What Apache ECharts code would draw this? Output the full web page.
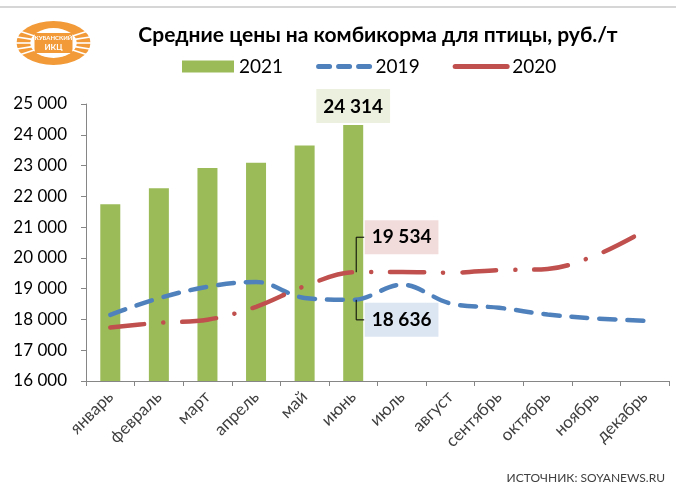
<!DOCTYPE html>
<html>
<head>
<meta charset="utf-8">
<title>Средние цены на комбикорма для птицы</title>
<script src="https://cdn.jsdelivr.net/npm/echarts@6/dist/echarts.min.js"></script>
<style>
  html, body { margin: 0; padding: 0; background: #fff; }
  #chart { width: 676px; height: 490px; }
</style>
</head>
<body>
<div id="chart"></div>
<script>
// данные
const months = ['январь', 'февраль', 'март', 'апрель', 'май', 'июнь', 'июль', 'август', 'сентябрь', 'октябрь', 'ноябрь', 'декабрь'];
const prices2021 = [21740, 22260, 22920, 23090, 23650, 24314];
const prices2019 = [18150, 18690, 19060, 19220, 18700, 18636, 19130, 18520, 18380, 18160, 18030, 17960];
const prices2020 = [17740, 17890, 17990, 18410, 19080, 19534, 19540, 19520, 19600, 19640, 20090, 20880];
const yMin = 16000;
const yMax = 25000;
const yStep = 1000;
const calloutMonth = 5; // июнь

const font = 'Lato, "Noto Sans", sans-serif';
const green = '#9BBB59';
const blue = '#4F81BD';
const red = '#C0504D';
const orange = '#F29A38';

function fmt(v) {
  return String(v).replace(/\B(?=(\d{3})+(?!\d))/g, ' ');
}

const calloutText = {
  show: true,
  fontFamily: font,
  fontSize: 19,
  fontWeight: 'bold',
  color: '#000',
  padding: [8, 7, 7, 7],
  formatter: p => fmt(p.value)
};

function lineData(arr, bg) {
  return arr.map((v, i) => i === calloutMonth
    ? { value: v, symbol: 'circle', symbolSize: 1, label: Object.assign({}, calloutText, { position: 'right', distance: 11, backgroundColor: bg }) }
    : v);
}

// белые прорези в венке логотипа
function logoLeaves() {
  let res = [];
  [150, 165, 180, 195, 210, -30, -15, 0, 15, 30].forEach(a => {
    let r = a * Math.PI / 180;
    res.push({
      type: 'line',
      shape: { x1: 37 + 22 * Math.cos(r), y1: 22 + 14 * Math.sin(r), x2: 37 + 38 * Math.cos(r), y2: 22 + 23 * Math.sin(r) },
      style: { stroke: '#fff', lineWidth: 1.6 }
    });
  });
  return res;
}

let myChart = echarts.init(document.getElementById('chart'));

function buildOption(leaders) {
  return {
    animation: false,
    backgroundColor: '#fff',
    title: {
      text: 'Средние цены на комбикорма для птицы, руб./т',
      left: 373,
      top: 20,
      textAlign: 'center',
      textStyle: { fontFamily: font, fontSize: 21, fontWeight: 'bold', color: '#000' }
    },
    legend: {
      left: 177,
      top: 52,
      itemWidth: 52,
      itemHeight: 12,
      itemGap: 33,
      textStyle: { fontFamily: font, fontSize: 19, color: '#000' },
      data: [
        { name: '2021', icon: 'rect' },
        { name: '2019', itemStyle: { opacity: 0 }, lineStyle: { type: [11, 9], width: 5 } },
        { name: '2020', itemStyle: { opacity: 0 }, lineStyle: { type: 'solid', width: 5 } }
      ]
    },
    grid: { left: 86, right: 7, top: 104, bottom: 109, containLabel: false },
    xAxis: {
      type: 'category',
      data: months,
      axisLine: { show: true, lineStyle: { color: '#868686' } },
      axisTick: { show: true, length: 5, lineStyle: { color: '#868686' } },
      axisLabel: { rotate: 45, margin: 13, fontFamily: font, fontSize: 17, color: '#404040' },
      splitLine: { show: false }
    },
    yAxis: {
      type: 'value',
      min: yMin,
      max: yMax,
      interval: yStep,
      axisLine: { show: true, lineStyle: { color: '#868686' } },
      axisTick: { show: true, length: 5, lineStyle: { color: '#868686' } },
      axisLabel: { margin: 19, fontFamily: font, fontSize: 17, color: '#000', formatter: v => fmt(v) },
      splitLine: { show: false }
    },
    series: [
      {
        name: '2021',
        type: 'bar',
        barWidth: 20,
        itemStyle: { color: green },
        data: prices2021.map((v, i) => i === calloutMonth
          ? { value: v, label: Object.assign({}, calloutText, { position: 'top', distance: 2, backgroundColor: '#EBF1DE' }) }
          : v)
      },
      {
        name: '2019',
        type: 'line',
        smooth: 0.35,
        symbol: 'none',
        itemStyle: { color: blue },
        lineStyle: { color: blue, width: 4.5, type: [16, 12], cap: 'round' },
        labelLayout: p => p.dataIndex === calloutMonth ? { dy: 20 } : {},
        data: lineData(prices2019, '#DCE6F2')
      },
      {
        name: '2020',
        type: 'line',
        smooth: 0.35,
        symbol: 'none',
        itemStyle: { color: red },
        lineStyle: { color: red, width: 4.5, type: [34, 19, 0.1, 19], cap: 'round' },
        labelLayout: p => p.dataIndex === calloutMonth ? { dy: -35 } : {},
        data: lineData(prices2020, '#F2DCDB')
      }
    ],
    graphic: [
      // серая линия сверху
      { type: 'line', shape: { x1: 0, y1: 7, x2: 676, y2: 7 }, style: { stroke: '#c8c8c8', lineWidth: 1.5 } },
      // логотип
      {
        type: 'group', left: 13, top: 21,
        children: [
          { type: 'circle', shape: { cx: 37, cy: 22, r: 22 }, scaleX: 1.68, originX: 37, originY: 22, style: { fill: orange } },
          { type: 'circle', shape: { cx: 37, cy: 22, r: 15 }, scaleX: 1.55, originX: 37, originY: 22, style: { fill: '#fff' } },
          { type: 'rect', shape: { x: 18, y: 12, width: 38, height: 20 }, style: { fill: orange } },
          { type: 'text', x: 37, y: 17, style: { text: 'КУБАНСКИЙ', fill: '#fff', font: 'bold 6px ' + font, align: 'center', verticalAlign: 'middle' } },
          { type: 'text', x: 37, y: 26, style: { text: 'ИКЦ', fill: '#fff', font: 'bold 8px ' + font, align: 'center', verticalAlign: 'middle' } }
        ].concat(logoLeaves())
      },
      // источник
      { type: 'text', right: 11, top: 472, style: { text: 'ИСТОЧНИК: SOYANEWS.RU', fill: '#404040', font: '12px ' + font } }
    ].concat(leaders || [])
  };
}

myChart.setOption(buildOption());

// выноски к подписям июня (поверх столбца)
let p20 = myChart.convertToPixel({ seriesIndex: 2 }, [calloutMonth, prices2020[calloutMonth]]);
let p19 = myChart.convertToPixel({ seriesIndex: 1 }, [calloutMonth, prices2019[calloutMonth]]);
let leaders = [
  { type: 'polyline', z: 100, shape: { points: [[p20[0] + 3, p20[1]], [p20[0] + 3, p20[1] - 35], [p20[0] + 11, p20[1] - 35]] }, style: { stroke: '#000', lineWidth: 1, fill: null } },
  { type: 'polyline', z: 100, shape: { points: [[p19[0] + 3, p19[1]], [p19[0] + 3, p19[1] + 20], [p19[0] + 11, p19[1] + 20]] }, style: { stroke: '#000', lineWidth: 1, fill: null } }
];
myChart.setOption(buildOption(leaders), true);
</script>
</body>
</html>
